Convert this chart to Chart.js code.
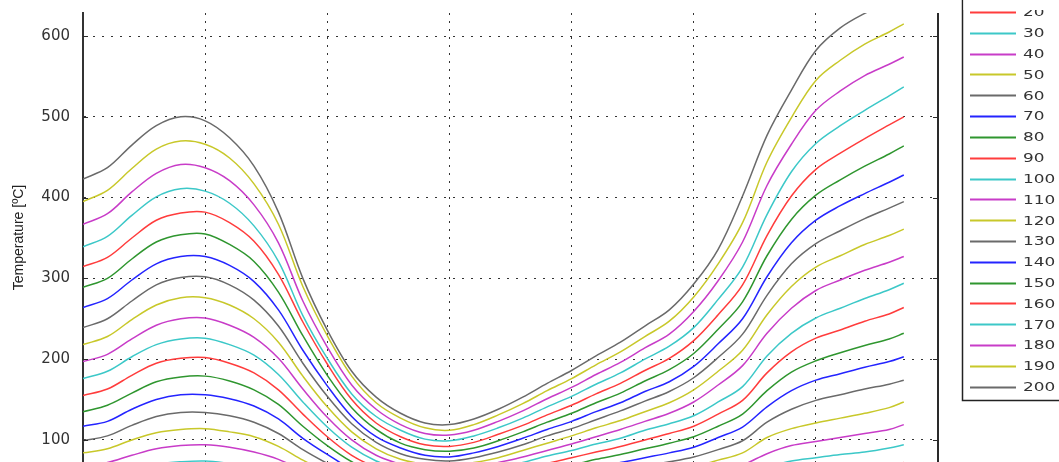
<!DOCTYPE html>
<html>
<head>
<meta charset="utf-8">
<script src="https://cdn.jsdelivr.net/npm/chart.js@4.4.1/dist/chart.umd.min.js"></script>
<style>
  html, body { margin: 0; padding: 0; background: #ffffff; overflow: hidden; }
  #wrap { width: 1059px; height: 462px; position: relative; }
</style>
</head>
<body>
<div id="wrap"><canvas id="chart" width="1059" height="462"></canvas></div>
<script>
// Sample positions along the horizontal axis (grid every 1 unit)
const xs = [0, 0.2, 0.4, 0.6, 0.8, 1.0, 1.2, 1.4, 1.6, 1.8, 2.0, 2.2, 2.4, 2.6, 2.8, 3.0, 3.2,
            3.4, 3.6, 3.8, 4.0, 4.2, 4.4, 4.6, 4.8, 5.0, 5.2, 5.4, 5.6, 5.8, 6.0, 6.2, 6.4, 6.6, 6.72];

// Series names as shown in the legend
const seriesLabels = ['20', '30', '40', '50', '60', '70', '80', '90', '100', '110',
                      '120', '130', '140', '150', '160', '170', '180', '190', '200'];

// Temperature curves [ºC]
const t020 = [38,41,47,52,54,55,53,50,44,37,30,24,20,18,16,16,17,18,20,21,23,25,27,29,31,33,37,42,51,56,60,62,65,69,72];
const t030 = [52,56,63,70,73,74,71,67,60,49,40,32,26,23,21,21,22,24,26,28,30,33,35,38,40,44,49,55,66,74,78,82,85,90,94];
const t040 = [67,72,81,89,93,94,91,85,76,62,50,40,33,29,27,26,27,29,32,35,38,41,44,47,51,55,61,69,83,93,98,103,108,113,119];
const t050 = [84,89,100,109,113,114,110,104,92,75,60,48,39,34,32,31,32,35,38,42,46,50,53,58,62,67,75,84,103,114,121,127,133,140,147];
const t060 = [99,105,118,129,134,134,130,122,108,88,71,56,46,40,37,36,38,41,45,49,53,58,62,68,73,79,88,99,122,138,149,156,163,169,174];
const t070 = [117,123,138,150,156,156,151,142,126,102,82,64,53,46,42,41,43,47,51,57,61,67,72,78,84,91,103,116,141,161,174,182,190,197,203];
const t080 = [135,143,158,172,178,179,173,162,144,117,93,73,59,51,47,46,48,53,58,64,69,76,82,89,96,104,117,132,161,184,198,208,217,225,232];
const t090 = [155,163,180,195,201,202,195,183,162,132,104,81,66,57,52,51,54,59,65,71,78,85,92,100,108,117,132,149,183,209,226,236,247,256,264];
const t100 = [176,185,203,218,225,226,218,205,181,147,116,91,74,64,58,57,60,65,72,80,87,95,102,112,120,130,147,166,204,232,251,263,275,286,294];
const t110 = [197,206,225,242,250,251,242,227,201,163,128,100,81,70,64,62,65,72,79,87,95,104,113,123,133,147,168,192,232,263,285,298,310,320,327];
const t120 = [218,228,249,267,276,276,267,250,221,179,141,110,89,76,70,68,72,78,87,96,105,115,124,135,146,162,185,211,255,290,314,328,342,353,361];
const t130 = [239,250,272,292,301,302,292,273,241,195,154,120,97,83,76,74,78,85,94,105,114,125,136,148,160,177,202,231,279,318,343,359,374,387,395];
const t140 = [264,275,298,318,327,327,316,296,261,211,167,129,104,90,81,79,84,92,102,113,123,135,146,160,172,191,219,250,302,344,372,390,405,419,428];
const t150 = [289,300,324,345,354,355,342,321,283,229,180,140,113,96,88,86,90,99,110,122,133,146,158,173,187,207,237,271,328,373,403,422,439,454,464];
const t160 = [314.5,326,350,372,381,382,369,346,305,246,194,150,121,104,94,92,97,107,118,131,143,157,170,186,201,223,255,292,353,402,435,455,473,490,500];
const t170 = [339,352,378,401,411,408,393,365,321,254,201,157,129,112,101,99,105,115,127,141,154,169,183,200,216,239,274,314,379,432,467,489,508,526,537];
const t180 = [367,380,407,430,441,437,421,391,344,272,215,168,138,119,108,106,112,123,136,151,165,181,196,214,231,259,297,345,415,466,508,532,551,565,574];
const t190 = [395,409,436,460,470,466,449,417,367,290,229,179,146,127,115,112,119,131,145,161,176,193,209,228,247,277,318,369,444,499,545,570,590,605,615];
const t200 = [423,437,465,489,500,495,474,439,382,300,236,185,153,133,121,119,126,138,153,170,186,204,221,241,261,293,336,402,477,533,582,610,628,642,650];

const seriesValues = [t020, t030, t040, t050, t060, t070, t080, t090, t100, t110,
                      t120, t130, t140, t150, t160, t170, t180, t190, t200];

// Y axis range and tick spacing
const yMin = 72.7;
const yMax = 628.5;
const yStep = 100;

// Repeating line colours: red, cyan, magenta, yellow, grey, blue, green
const palette = ['#ff3c3c', '#3cc8c8', '#c83cc8', '#c8c82a', '#6a6a6a', '#2424ff', '#2f962f'];

const datasets = seriesLabels.map((label, i) => ({
  label,
  data: xs.map((x, j) => ({ x, y: seriesValues[i][j] })),
  borderColor: palette[i % palette.length],
  backgroundColor: palette[i % palette.length],
  borderWidth: 1.5,
  pointRadius: 0,
  tension: 0.35,
  fill: false
}));

// Right-hand frame line plus short inward tick marks on both vertical edges
const framePlugin = {
  id: 'frame',
  afterDatasetsDraw(chart) {
    const { ctx, chartArea } = chart;
    const y = chart.scales.y;
    ctx.save();
    ctx.strokeStyle = '#2a2a2a';
    ctx.lineWidth = 2;
    ctx.beginPath();
    ctx.moveTo(chartArea.right, chartArea.top);
    ctx.lineTo(chartArea.right, chartArea.bottom);
    ctx.stroke();
    ctx.lineWidth = 1;
    y.ticks.forEach(t => {
      const py = Math.round(y.getPixelForValue(t.value)) + 0.5;
      ctx.beginPath();
      ctx.moveTo(chartArea.left, py);
      ctx.lineTo(chartArea.left + 5, py);
      ctx.moveTo(chartArea.right - 5, py);
      ctx.lineTo(chartArea.right, py);
      ctx.stroke();
    });
    ctx.restore();
  }
};

// Boxed legend on the right, listing every series from the bottom entry upwards
const boxLegendPlugin = {
  id: 'boxLegend',
  afterDraw(chart) {
    const { ctx } = chart;
    const sets = chart.data.datasets;
    const boxLeft = 962.5, boxBottom = 400.5;
    const rowH = 20.82;
    const lastRowY = 386.7;
    ctx.save();
    ctx.fillStyle = '#ffffff';
    ctx.fillRect(boxLeft, -20, 200, boxBottom + 20);
    ctx.strokeStyle = '#222222';
    ctx.lineWidth = 1.5;
    ctx.beginPath();
    ctx.moveTo(boxLeft, -20);
    ctx.lineTo(boxLeft, boxBottom);
    ctx.lineTo(1080, boxBottom);
    ctx.stroke();
    ctx.font = '13px "DejaVu Sans"';
    ctx.textBaseline = 'middle';
    ctx.textAlign = 'left';
    sets.forEach((ds, i) => {
      const yy = lastRowY - (sets.length - 1 - i) * rowH;
      ctx.strokeStyle = ds.borderColor;
      ctx.lineWidth = 2;
      ctx.beginPath();
      ctx.moveTo(970, Math.round(yy) + 0.5);
      ctx.lineTo(1016, Math.round(yy) + 0.5);
      ctx.stroke();
      // labels are drawn slightly widened
      ctx.save();
      ctx.translate(1023, yy + 1);
      ctx.scale(1.3, 1);
      ctx.fillStyle = '#333333';
      ctx.fillText(ds.label, 0, 0);
      ctx.restore();
    });
    // the top edge of the legend panel is cut by the page border
    ctx.fillStyle = '#ffffff';
    ctx.fillRect(boxLeft + 1, 0, 200, 10);
    ctx.restore();
  }
};

new Chart(document.getElementById('chart'), {
  type: 'line',
  data: { datasets },
  options: {
    responsive: false,
    animation: false,
    devicePixelRatio: 1,
    layout: { padding: { top: 13, right: 121, bottom: 0, left: 0 } },
    plugins: {
      legend: { display: false },
      tooltip: { enabled: false }
    },
    scales: {
      x: {
        type: 'linear',
        min: 0,
        max: 7,
        afterFit(scale) { scale.height = 0; scale.paddingLeft = 0; scale.paddingRight = 0; },
        ticks: { display: false, stepSize: 1 },
        grid: { drawTicks: false, color: '#333333', lineWidth: 1, borderDash: [2, 6] },
        border: { display: false, dash: [2, 6] }
      },
      y: {
        min: yMin,
        max: yMax,
        afterFit(scale) { scale.width = 83; scale.paddingTop = 0; scale.paddingBottom = 0; },
        ticks: {
          stepSize: yStep,
          includeBounds: false,
          padding: 13,
          color: '#333333',
          font: { family: '"DejaVu Sans"', size: 15 }
        },
        grid: { drawTicks: false, color: '#333333', lineWidth: 1, borderDash: [2, 7] },
        border: { display: true, color: '#333333', width: 2, dash: [2, 7] },
        title: {
          display: true,
          text: 'Temperature [ºC]',
          color: '#222222',
          font: { family: '"Liberation Sans"', size: 14 },
          padding: { top: 11, bottom: 0 }
        }
      }
    }
  },
  plugins: [framePlugin, boxLegendPlugin]
});
</script>
</body>
</html>
